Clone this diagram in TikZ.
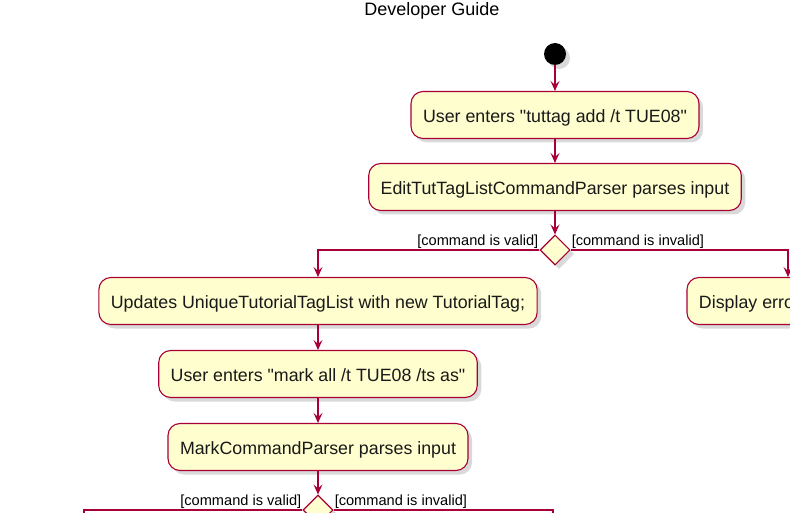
\documentclass[tikz,border=0pt]{standalone}
\usepackage{fontspec}
\setmainfont{Liberation Sans}
\usetikzlibrary{arrows.meta}
\usetikzlibrary{shapes.geometric,shadows}

\definecolor{umlred}{HTML}{A80036}
\definecolor{umlfill}{HTML}{FEFECE}

\tikzset{
  act/.style={draw=umlred, fill=umlfill, rounded corners=12pt, line width=1.1pt,
    minimum height=47pt, inner xsep=12pt, text=black!90,
    text height=15pt, text depth=0pt,
    font=\fontsize{17.8}{20}\selectfont,
    drop shadow={shadow xshift=4pt, shadow yshift=-4pt, opacity=0.3}},
  choice/.style={diamond, draw=umlred, fill=umlfill, line width=1.1pt,
    minimum width=30pt, minimum height=30pt, inner sep=0pt,
    drop shadow={shadow xshift=4pt, shadow yshift=-4pt, opacity=0.3}},
  guard/.style={font=\fontsize{14.6}{16}\selectfont, inner sep=1pt},
  flow/.style={draw=umlred, line width=1.1pt, -{Stealth[length=10pt,width=9pt,inset=4pt]}},
}

\begin{document}
\begin{tikzpicture}[x=1pt, y=-1pt]
        \useasboundingbox (0, 0) rectangle (790, 513);
        \clip (0, 0) rectangle (790, 513);

        \node (title) at (432, 11) {\fontsize{18}{20}\selectfont Developer Guide};

        \node[circle, fill=black, minimum size=22pt, inner sep=0pt,
          drop shadow={shadow xshift=4pt, shadow yshift=-4pt, opacity=0.3}] (start) at (555, 54) {};

        \node[act] (enter1) at (555, 115) {User enters \textquotedbl tuttag add /t TUE08\textquotedbl};
        \node[act] (parse1) at (555, 187) {EditTutTagListCommandParser parses input};
        \node[choice] (valid1) at (555, 250) {};

        \node[act] (update) at (318, 301) {Updates UniqueTutorialTagList with new TutorialTag;};
        \node[act, minimum width=188pt] (error1) at (788, 301) {Display error message};
        \node[act] (enter2) at (318, 374) {User enters \textquotedbl mark all /t TUE08 /ts as\textquotedbl};
        \node[act] (parse2) at (318, 447) {MarkCommandParser parses input};
        \node[choice] (valid2) at (318, 510) {};

        \coordinate (left2) at (84, 570);
        \coordinate (right2) at (553, 570);

        \draw[flow] (start) -- (enter1);
        \draw[flow] (enter1) -- (parse1);
        \draw[flow] (parse1) -- (valid1);
        \draw[flow] (valid1.west) -| (update.north);
        \draw[flow] (valid1.east) -| (error1.north);
        \draw[flow] (update) -- (enter2);
        \draw[flow] (enter2) -- (parse2);
        \draw[flow] (parse2) -- (valid2);
        \draw[flow] (valid2.west) -| (left2);
        \draw[flow] (valid2.east) -| (right2);

        \node[guard, anchor=south east] at (valid1.west) {[command is valid]};
        \node[guard, anchor=south west] at (valid1.east) {[command is invalid]};
        \node[guard, anchor=south east] at (valid2.west) {[command is valid]};
        \node[guard, anchor=south west] at (valid2.east) {[command is invalid]};
      \end{tikzpicture}
\end{document}
